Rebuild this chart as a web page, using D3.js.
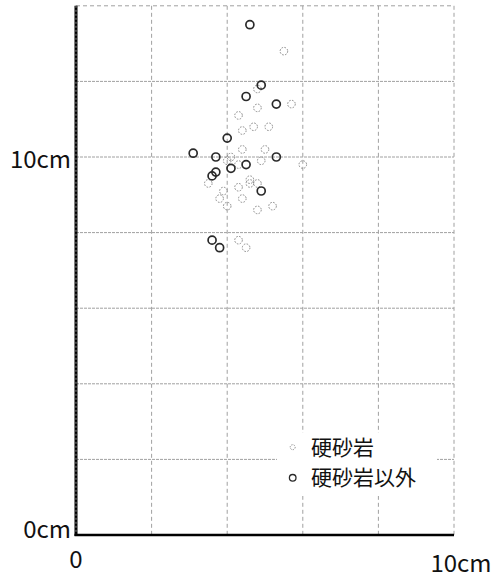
<!DOCTYPE html>
<html>
<head>
<meta charset="utf-8">
<script src="https://cdn.jsdelivr.net/npm/d3@7"></script>
<style>
  html, body { margin: 0; padding: 0; background: #fff; }
  svg { display: block; }
  text { font-family: "Noto Sans CJK JP", "Noto Sans", sans-serif; fill: #111; }
</style>
</head>
<body>
<svg id="chart" width="500" height="577"></svg>
<script>
// ---- data ----
const seriesNames = ["硬砂岩", "硬砂岩以外"];
// 硬砂岩 (light dotted circles): [x cm, y cm]
const hardSandstone = [
  [5.5,12.8],[4.8,11.8],[5.7,11.4],[4.8,11.3],[4.3,11.1],[4.4,10.7],[4.7,10.8],
  [5.1,10.8],[4.4,10.2],[5.0,10.2],[4.1,10.0],[4.0,9.9],[4.3,9.8],[4.9,9.9],
  [6.0,9.8],[4.6,9.4],[4.8,9.3],[4.6,9.3],[3.5,9.3],[3.9,9.1],[4.3,9.2],
  [3.8,8.9],[4.4,8.9],[4.0,8.7],[4.8,8.6],[5.2,8.7],[4.3,7.8],[4.5,7.6]
];
// 硬砂岩以外 (dark circles)
const otherRocks = [
  [4.6,13.5],[4.9,11.9],[4.5,11.6],[5.3,11.4],[4.0,10.5],[3.1,10.1],[3.7,10.0],
  [5.3,10.0],[4.5,9.8],[4.1,9.7],[3.7,9.6],[3.6,9.5],[4.9,9.1],[3.6,7.8],[3.8,7.6]
];
const xGridValues = [2, 4, 6, 8];
const yGridValues = [2, 4, 6, 8, 10, 12];
const xTickValues = [0, 10];
const xTickLabels = ["0", "10cm"];
const yTickValues = [0, 10];
const yTickLabels = ["0cm", "10cm"];

// ---- scales ----
const svg = d3.select("#chart");
const x = d3.scaleLinear().domain([0, 10]).range([76, 454]);
const y = d3.scaleLinear().domain([0, 14]).range([535, 5.8]);

const grid = svg.append("g");
grid.selectAll("line.v").data(xGridValues).join("line")
  .attr("x1", d => x(d)).attr("x2", d => x(d))
  .attr("y1", y(14)).attr("y2", y(0))
  .attr("stroke", "#a0a0a0").attr("stroke-width", 1)
  .attr("stroke-dasharray", "4,3");
grid.selectAll("line.h").data(yGridValues).join("line")
  .attr("x1", x(0)).attr("x2", x(10))
  .attr("y1", d => y(d)).attr("y2", d => y(d))
  .attr("stroke", "#a0a0a0").attr("stroke-width", 1)
  .attr("stroke-dasharray", "3,1");
grid.append("line").attr("x1", x(0)).attr("x2", x(10)).attr("y1", y(14)).attr("y2", y(14))
  .attr("stroke", "#a0a0a0").attr("stroke-dasharray", "4,3");
grid.append("line").attr("x1", x(10)).attr("x2", x(10)).attr("y1", y(14)).attr("y2", y(0))
  .attr("stroke", "#a0a0a0").attr("stroke-dasharray", "4,3");

// axes lines
svg.append("line").attr("x1", x(0)).attr("x2", x(0)).attr("y1", y(14)).attr("y2", y(0) + 1)
  .attr("stroke", "#000").attr("stroke-width", 3);
svg.append("line").attr("x1", x(0)).attr("x2", x(0)).attr("y1", y(14)).attr("y2", y(0))
  .attr("stroke", "#888").attr("stroke-width", 1).attr("stroke-dasharray", "2,2");
svg.append("line").attr("x1", x(0) - 1.5).attr("x2", x(10)).attr("y1", y(0)).attr("y2", y(0))
  .attr("stroke", "#000").attr("stroke-width", 2.5);

// tick labels
svg.selectAll("text.yt").data(yTickValues).join("text")
  .attr("x", x(0) - 5)
  .attr("y", d => y(d) + (d === 0 ? 3 : 10.5))
  .attr("text-anchor", "end")
  .attr("font-size", 24)
  .text((d, i) => yTickLabels[i]);
svg.selectAll("text.xt").data(xTickValues).join("text")
  .attr("x", (d, i) => x(d) + (i === 0 ? 0 : 7))
  .attr("y", (d, i) => i === 0 ? 568 : 571.5)
  .attr("text-anchor", "middle")
  .attr("font-size", 24)
  .text((d, i) => xTickLabels[i]);

// points
svg.append("g").selectAll("circle").data(hardSandstone).join("circle")
  .attr("cx", d => x(d[0])).attr("cy", d => y(d[1])).attr("r", 3.8)
  .attr("fill", "none").attr("stroke", "#8a8a8a").attr("stroke-width", 1)
  .attr("stroke-dasharray", "1.6,1.4");
svg.append("g").selectAll("circle").data(otherRocks).join("circle")
  .attr("cx", d => x(d[0])).attr("cy", d => y(d[1])).attr("r", 4)
  .attr("fill", "none").attr("stroke", "#2a2a2a").attr("stroke-width", 1.7);

// legend
const lg = svg.append("g");
lg.append("rect").attr("x", 277).attr("y", 433).attr("width", 160).attr("height", 63).attr("fill", "#fff");
const legendItems = [
  { name: seriesNames[0], r: 2.5, stroke: "#8a8a8a", w: 1, dash: "1.3,1.2" },
  { name: seriesNames[1], r: 3.3, stroke: "#2a2a2a", w: 1.3, dash: null }
];
legendItems.forEach((it, i) => {
  const cy = 447.2 + i * 30.6;
  lg.append("circle").attr("cx", 292.7).attr("cy", cy).attr("r", it.r)
    .attr("fill", "none").attr("stroke", it.stroke).attr("stroke-width", it.w)
    .attr("stroke-dasharray", it.dash);
  lg.append("text").attr("x", 311).attr("y", cy).attr("dy", "0.36em")
    .attr("font-size", 21).attr("textLength", null).text(it.name);
});
</script>
</body>
</html>
